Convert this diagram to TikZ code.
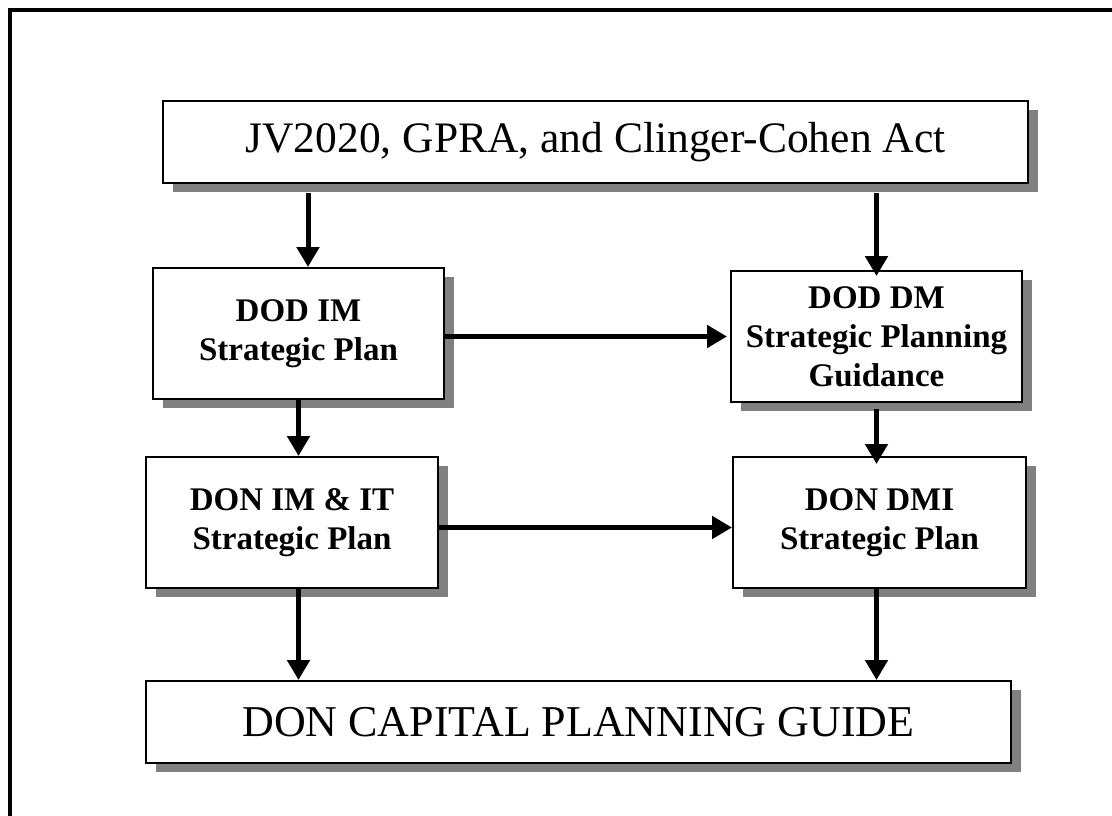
\documentclass[tikz,border=0pt]{standalone}
\usepackage{fontspec}
\setmainfont{Liberation Serif}
\usepackage{tikz}
\usetikzlibrary{arrows.meta}
\usetikzlibrary{shadows}
\tikzset{
	plan/.style={draw, line width=2pt, fill=white, inner sep=0pt, align=center,
		drop shadow={shadow xshift=10pt, shadow yshift=-9pt, fill=black!50, opacity=1}},
	widebox/.style={plan, minimum width=865pt, minimum height=82pt},
	smallbox/.style={plan, minimum height=131pt, font=\bfseries\fontsize{33}{39}\selectfont},
	flow/.style={-{Triangle[length=20pt,width=22pt]}, line width=5pt}
}
\begin{document}
\begin{tikzpicture}[x=1pt,y=-1pt]
		\useasboundingbox (0,0) rectangle (1112,816);
		\draw[line width=4pt] (10,816) -- (10,10) -- (1112,10);
		\node[widebox, font=\fontsize{43.5}{48}\selectfont] (acts) at (595.5,142) {JV2020, GPRA, and Clinger-Cohen Act};
		\node[smallbox, minimum width=291pt] (dodim) at (298.5,333.5) {DOD IM\\Strategic Plan};
		\node[smallbox, minimum width=291pt] (doddm) at (876.5,336.5) {DOD DM\\Strategic Planning\\Guidance};
		\node[smallbox, minimum width=292pt] (donim) at (292,522.5) {DON IM \& IT\\Strategic Plan};
		\node[smallbox, minimum width=293pt] (dondmi) at (879.5,522.5) {DON DMI\\Strategic Plan};
		\node[widebox, font=\fontsize{44}{49}\selectfont] (guide) at (578.5,722) {DON CAPITAL PLANNING GUIDE};
		\path (dodim.north) ++(9.5,0) coordinate (leftin);
		\draw[flow, shorten <=9pt] (leftin |- acts.south) -- (leftin);
		\draw[flow, shorten <=9pt, shorten >=-6pt] (doddm.north |- acts.south) -- (doddm.north);
		\draw[flow] (dodim.east |- doddm.west) -- ([xshift=-3pt]doddm.west);
		\draw[flow] ([yshift=-5pt]dondmi.west -| donim.east) -- ([yshift=-5pt]dondmi.west);
		\draw[flow] (dodim.south) -- (dodim.south |- donim.north);
		\draw[flow, shorten <=6pt, shorten >=-8pt] (doddm.south) -- (doddm.south |- dondmi.north);
		\draw[flow] (dodim.south |- donim.south) -- (dodim.south |- guide.north);
		\draw[flow] (doddm.south |- dondmi.south) -- (doddm.south |- guide.north);
\end{tikzpicture}
\end{document}
